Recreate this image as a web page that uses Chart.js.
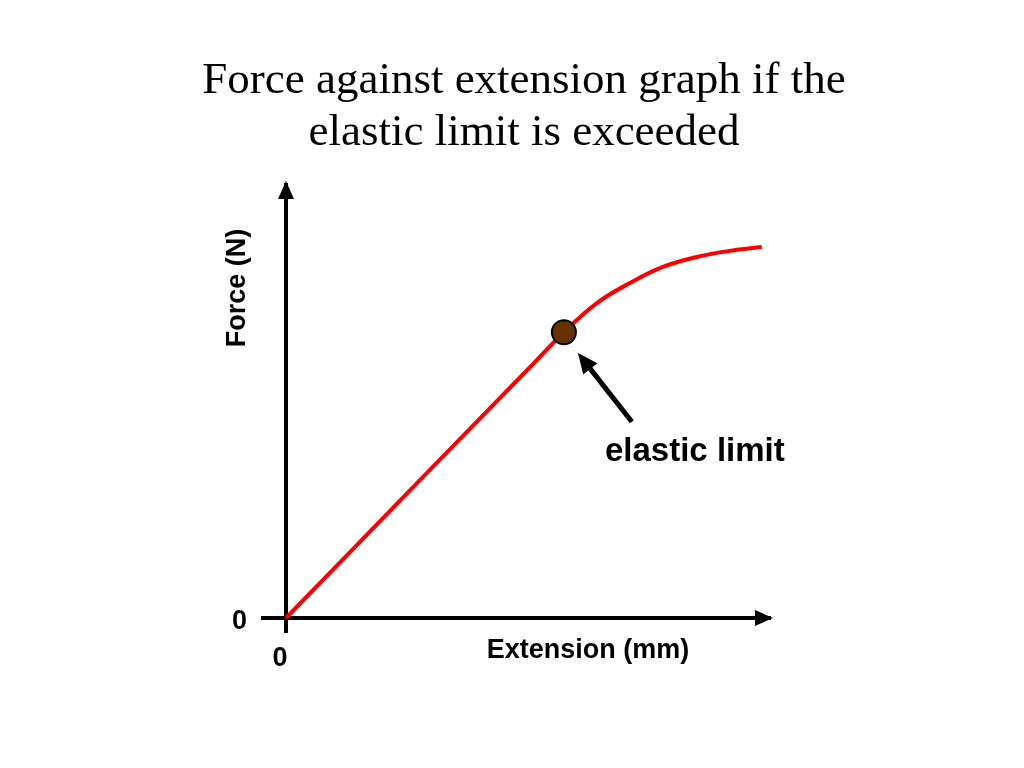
<!DOCTYPE html>
<html>
<head>
<meta charset="utf-8">
<script src="https://cdn.jsdelivr.net/npm/chart.js@4.4.1/dist/chart.umd.min.js"></script>
<style>
  body { margin: 0; background: #fff; }
</style>
</head>
<body>
<canvas id="grafica" width="1024" height="768"></canvas>
<script>
// datos (unidades arbitrarias 0..10)
const titleLines = ['Force against extension graph if the', 'elastic limit is exceeded'];
const extension = [0, 2.5, 5.0, 5.73, 6.41, 7.09, 7.77, 8.47, 9.15, 9.81];
const force = [0, 2.87, 5.73, 6.57, 7.24, 7.70, 8.07, 8.30, 8.44, 8.53];
const limitExtension = [5.73];
const limitForce = [6.57];
const xTicks = [0];
const yTicks = [0];

// anotaciones (en unidades de datos)
const arrowFrom = { x: 7.13, y: 4.51 };
const arrowTo = { x: 6.02, y: 6.09 };
const labelAt = { x: 8.43, y: 3.82 };

const boldFont = (size) => `bold ${size}px "Liberation Sans", Arial, sans-serif`;

const drawHead = (ctx, x1, y1, x2, y2, len, half) => {
    const ang = Math.atan2(y2 - y1, x2 - x1);
    ctx.beginPath();
    ctx.moveTo(x2, y2);
    ctx.lineTo(x2 - len * Math.cos(ang) + half * Math.sin(ang), y2 - len * Math.sin(ang) - half * Math.cos(ang));
    ctx.lineTo(x2 - len * Math.cos(ang) - half * Math.sin(ang), y2 - len * Math.sin(ang) + half * Math.cos(ang));
    ctx.closePath();
    ctx.fill();
};

const extras = {
    id: 'extras',
    beforeDatasetsDraw(chart) {
        const { ctx, chartArea: a } = chart;
        ctx.save();
        ctx.fillStyle = '#000';
        // flechas de los ejes
        drawHead(ctx, a.left, a.bottom, a.left, a.top - 2, 18, 8);
        drawHead(ctx, a.left, a.bottom, a.right + 2, a.bottom, 18, 8);
        ctx.restore();
    },
    afterDraw(chart) {
        const { ctx, scales: { x, y } } = chart;
        ctx.save();
        ctx.fillStyle = '#000';

        // titulo
        ctx.font = '45px "Liberation Serif", "Times New Roman", serif';
        ctx.textAlign = 'center';
        ctx.textBaseline = 'alphabetic';
        titleLines.forEach((t, i) => ctx.fillText(t, 524, 93 + i * 52));

        // titulos de ejes
        ctx.font = boldFont(27);
        ctx.textBaseline = 'middle';
        ctx.fillText('Extension (mm)', 588, 651);
        ctx.save();
        ctx.translate(238, 288);
        ctx.rotate(-Math.PI / 2);
        ctx.fillText('Force (N)', 0, 0);
        ctx.restore();

        // flecha del limite elastico
        const fx = x.getPixelForValue(arrowFrom.x), fy = y.getPixelForValue(arrowFrom.y);
        const tx = x.getPixelForValue(arrowTo.x), ty = y.getPixelForValue(arrowTo.y);
        const ang = Math.atan2(ty - fy, tx - fx);
        ctx.strokeStyle = '#000';
        ctx.lineWidth = 5;
        ctx.beginPath();
        ctx.moveTo(fx, fy);
        ctx.lineTo(tx - 14 * Math.cos(ang), ty - 14 * Math.sin(ang));
        ctx.stroke();
        drawHead(ctx, fx, fy, tx, ty, 20, 9);

        ctx.font = boldFont(33);
        ctx.fillText('elastic limit', x.getPixelForValue(labelAt.x), y.getPixelForValue(labelAt.y));
        ctx.restore();
    }
};

const onlyTicks = (vals) => (scale) => { scale.ticks = vals.map(v => ({ value: v })); };

const ctx = document.getElementById('grafica').getContext('2d');

const grafica = new Chart(ctx, {
    type: 'scatter',
    data: {
        datasets: [{
            label: 'elastic limit',
            data: limitExtension.map((v, i) => ({ x: v, y: limitForce[i] })),
            pointRadius: 12,
            pointBackgroundColor: '#663300',
            pointBorderColor: '#000',
            pointBorderWidth: 2,
            showLine: false,
            order: 0
        }, {
            label: 'Force',
            data: extension.map((v, i) => ({ x: v, y: force[i] })),
            showLine: true,
            borderColor: '#ff0000',
            borderWidth: 4,
            pointRadius: 0,
            tension: 0.4,
            clip: false,
            order: 1
        }]
    },
    options: {
        responsive: false,
        animation: false,
        layout: { padding: { left: 0, right: 253, top: 183, bottom: 0 } },
        plugins: {
            legend: { display: false },
            tooltip: { enabled: false }
        },
        scales: {
            x: {
                type: 'linear',
                min: 0,
                max: 10,
                afterBuildTicks: onlyTicks(xTicks),
                afterFit: (s) => { s.height = 150; },
                border: { display: false },
                grid: { color: '#000', lineWidth: 4, tickLength: 15 },
                ticks: { color: '#000', font: { family: '"Liberation Sans", Arial, sans-serif', size: 27, weight: 'bold' }, padding: 9, labelOffset: -6, maxRotation: 0 }
            },
            y: {
                type: 'linear',
                min: 0,
                max: 10,
                afterBuildTicks: onlyTicks(yTicks),
                afterFit: (s) => { s.width = 286; },
                border: { display: false },
                grid: { color: '#000', lineWidth: 4, tickLength: 25 },
                ticks: { color: '#000', font: { family: '"Liberation Sans", Arial, sans-serif', size: 27, weight: 'bold' }, padding: 14, labelOffset: 4 }
            }
        }
    },
    plugins: [extras]
});
</script>
</body>
</html>
